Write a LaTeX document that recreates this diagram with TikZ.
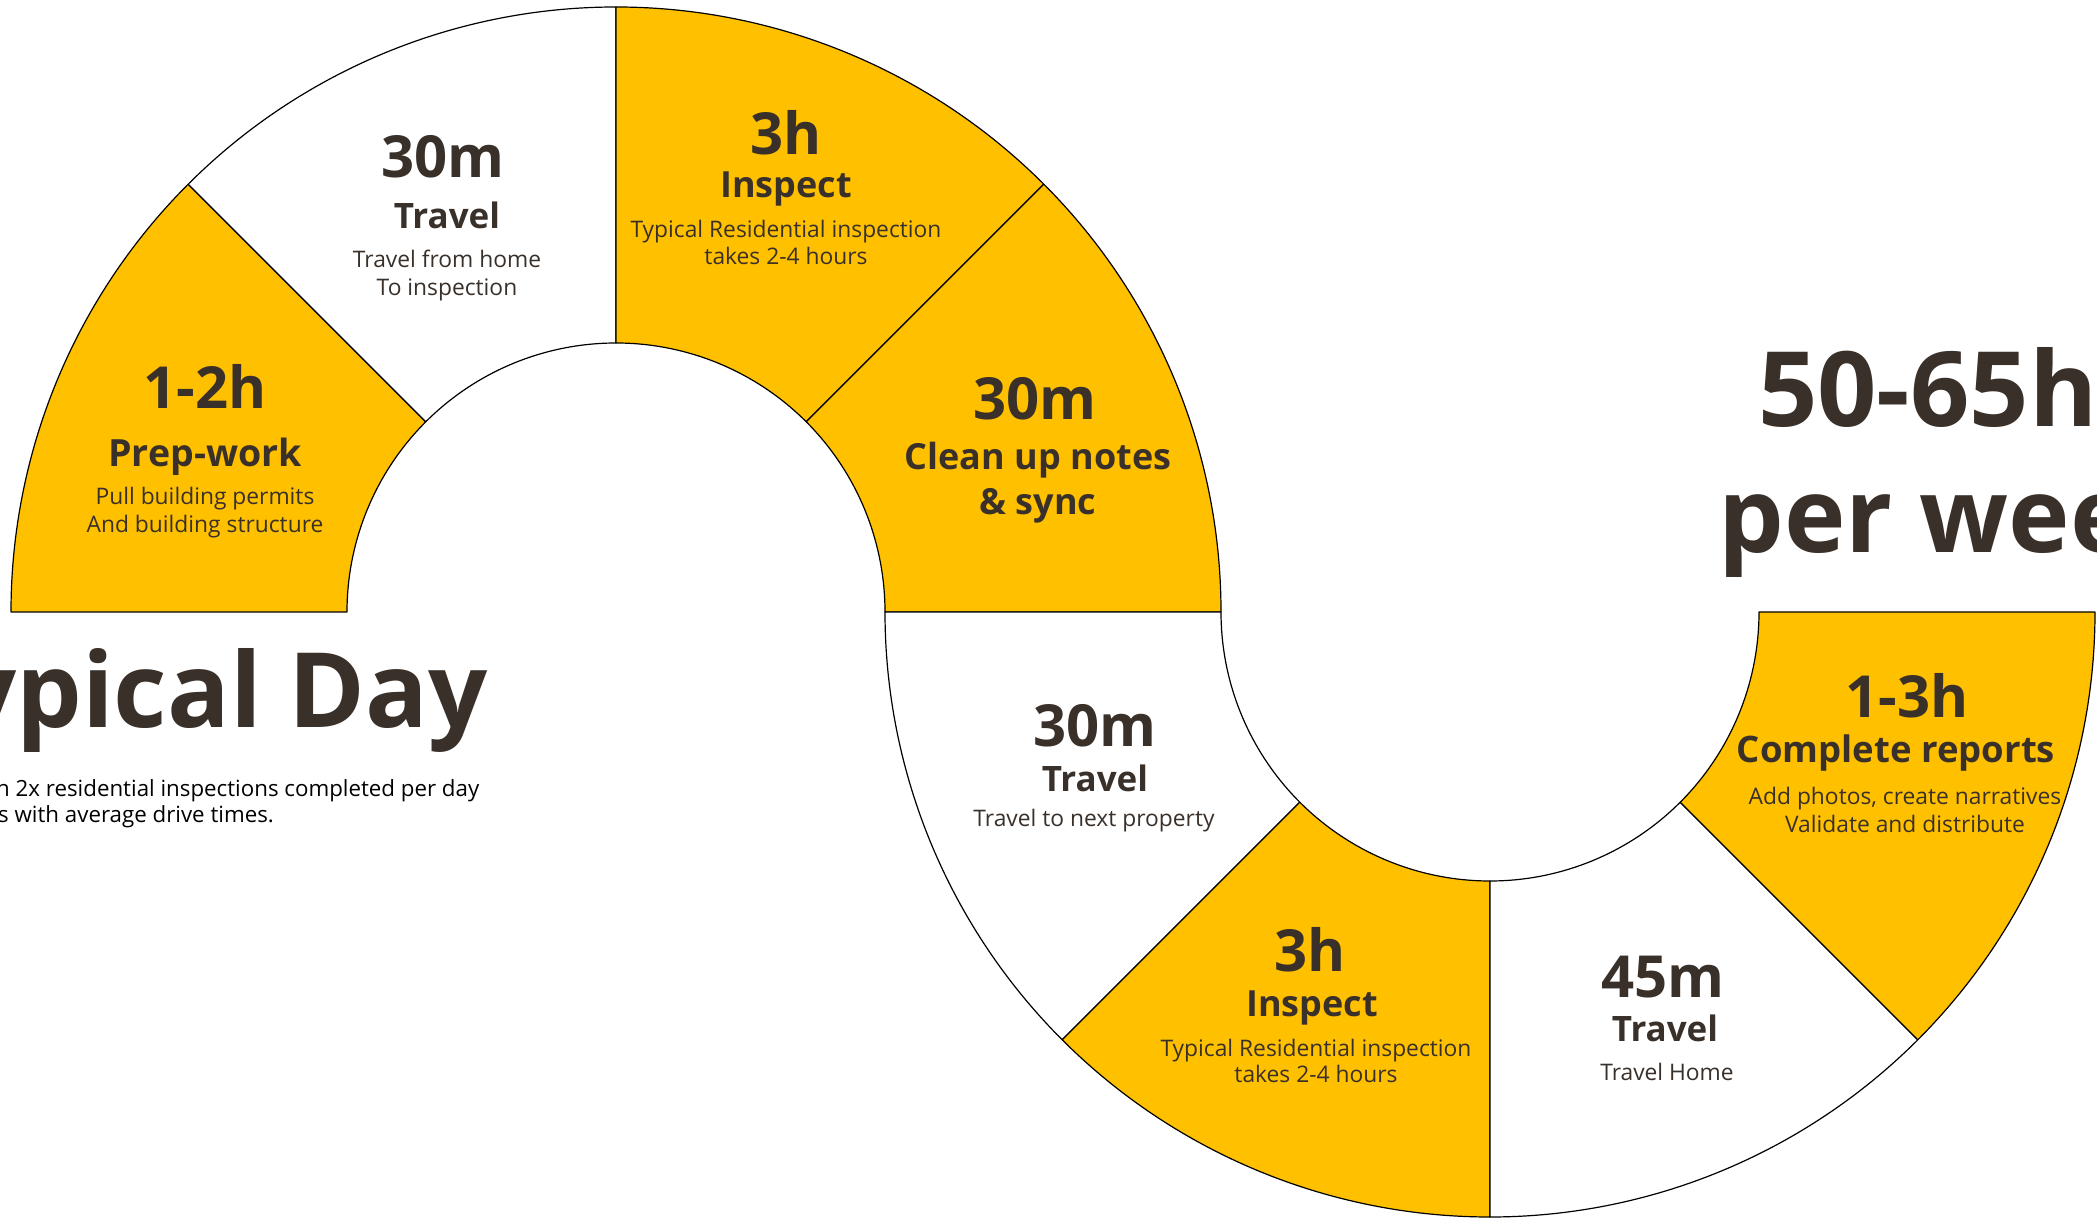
\documentclass[tikz,border=0pt]{standalone}
\usepackage{fontspec}
\setmainfont{Open Sans}
\definecolor{gold}{HTML}{FFC000}
\definecolor{ink}{HTML}{3A302A}
\newcommand{\ringseg}[5]{% cx cy a1 a2 fill
  \filldraw[segline, fill=#5] ([shift={(#3:605pt)}]#1,#2) arc[start angle=#3, end angle=#4, radius=605pt]
    -- ([shift={(#4:269pt)}]#1,#2) arc[start angle=#4, end angle=#3, radius=269pt] -- cycle;}
\tikzset{
  segline/.style={draw=black, line width=1.2pt, line join=round},
  num/.style={font=\fontsize{58}{60}\selectfont\bfseries, text=ink, inner sep=0pt, anchor=base},
  ttl/.style={font=\fontsize{36}{40}\selectfont\bfseries, text=ink, inner sep=0pt, anchor=base},
  sub/.style={font=\fontsize{22.8}{28}\selectfont, text=ink, inner sep=0pt, anchor=base},
  big/.style={font=\fontsize{104}{110}\selectfont\bfseries, text=ink, inner sep=0pt},
  note/.style={font=\fontsize{22.3}{28}\selectfont, text=black, inner sep=0pt},
}
\begin{document}
\begin{tikzpicture}[x=1pt,y=1pt]
\useasboundingbox (0,0) rectangle (2097,1219);
\clip (0,0) rectangle (2097,1219);
\fill[white] (0,0) rectangle (2097,1219);
% upper ring
\ringseg{616}{607}{135}{180}{gold}
\ringseg{616}{607}{90}{135}{white}
\ringseg{616}{607}{45}{90}{gold}
\ringseg{616}{607}{0}{45}{gold}
% lower ring
\ringseg{1490}{607}{180}{225}{white}
\ringseg{1490}{607}{225}{270}{gold}
\ringseg{1490}{607}{270}{315}{white}
\ringseg{1490}{607}{315}{360}{gold}

% Prep-work
\node[num] (prep-n) at (205,810) {1-2h};
\node[ttl, font=\fontsize{37.5}{40}\selectfont\bfseries] (prep-t) at (205,752) {Prep-work};
\node[sub] (prep-s1) at (205,714) {Pull building permits};
\node[sub] (prep-s2) at (205,686) {And building structure};
% Travel (top)
\node[num] (tr1-n) at (443,1041) {30m};
\node[ttl, font=\fontsize{35}{40}\selectfont\bfseries] (tr1-t) at (447,990) {Travel};
\node[sub] (tr1-s1) at (447,951) {Travel from home};
\node[sub] (tr1-s2) at (447,923) {To inspection};
% Inspect (top)
\node[num] (in1-n) at (786,1064) {3h};
\node[ttl] (in1-t) at (786,1021) {Inspect};
\node[sub] (in1-s1) at (786,981) {Typical Residential inspection};
\node[sub] (in1-s2) at (786,954) {takes 2-4 hours};
% Clean up
\node[num] (cl-n) at (1035,799) {30m};
\node[ttl] (cl-t1) at (1038,749) {Clean up notes};
\node[ttl] (cl-t2) at (1038,704) {\& sync};
% Travel (lower)
\node[num] (tr2-n) at (1095,472) {30m};
\node[ttl, font=\fontsize{35}{40}\selectfont\bfseries] (tr2-t) at (1095,427) {Travel};
\node[sub] (tr2-s) at (1094,392) {Travel to next property};
% Inspect (lower)
\node[num] (in2-n) at (1310,247) {3h};
\node[ttl] (in2-t) at (1312,202) {Inspect};
\node[sub] (in2-s1) at (1316,162) {Typical Residential inspection};
\node[sub] (in2-s2) at (1316,136) {takes 2-4 hours};
% Travel home
\node[num] (tr3-n) at (1663,221) {45m};
\node[ttl, font=\fontsize{35}{40}\selectfont\bfseries] (tr3-t) at (1665,177) {Travel};
\node[sub] (tr3-s) at (1667,139) {Travel Home};
% Complete reports
\node[num] (rep-n) at (1907,501) {1-3h};
\node[ttl, font=\fontsize{36.5}{40}\selectfont\bfseries] (rep-t) at (1896,456) {Complete reports};
\node[sub] (rep-s1) at (1905,414) {Add photos, create narratives};
\node[sub] (rep-s2) at (1905,386) {Validate and distribute};

% Headlines
\node[big, anchor=base east] (day) at (488,491) {Typical Day};
\node[note, anchor=base west] (day-s1) at (-4,422) {n 2x residential inspections completed per day};
\node[note, anchor=base west] (day-s2) at (-2,396) {s with average drive times.};
\node[big, anchor=base west] (week1) at (1758,792) {50-65h};
\node[big, anchor=base west] (week2) at (1718,666) {per week};
\end{tikzpicture}
\end{document}
